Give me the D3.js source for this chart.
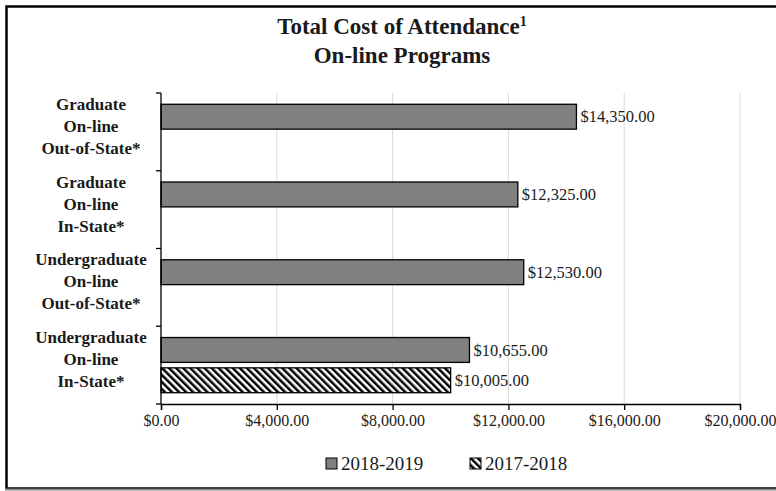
<!DOCTYPE html>
<html>
<head>
<meta charset="utf-8">
<script src="https://cdn.jsdelivr.net/npm/d3@7"></script>
<style>
  body { margin: 0; background: #fff; }
  text { font-family: "Liberation Serif", "DejaVu Serif", serif; fill: #1a1a1a; }
</style>
</head>
<body>
<script>
// Data
var categories = [
  ["Graduate", "On-line", "Out-of-State*"],
  ["Graduate", "On-line", "In-State*"],
  ["Undergraduate", "On-line", "Out-of-State*"],
  ["Undergraduate", "On-line", "In-State*"]
];
var seriesNames = ["2018-2019", "2017-2018"];
var values2018 = [14350, 12325, 12530, 10655];
var values2017 = [null, null, null, 10005];
var xTicks = [0, 4000, 8000, 12000, 16000, 20000];

var W = 776, H = 491;
var svg = d3.select("body").append("svg")
  .attr("width", W)
  .attr("height", H);

// hatch pattern for 2017-2018 (lines running "\")
var defs = svg.append("defs");
var pat = defs.append("pattern")
  .attr("id", "hatch")
  .attr("patternUnits", "userSpaceOnUse")
  .attr("width", 5)
  .attr("height", 5)
  .attr("patternTransform", "rotate(-45)");
pat.append("rect").attr("width", 5).attr("height", 5).attr("fill", "#fff");
pat.append("rect").attr("width", 2.5).attr("height", 5).attr("fill", "#000");

// outer frame
svg.append("rect")
  .attr("x", 6.5).attr("y", 6.5)
  .attr("width", W + 20).attr("height", 482)
  .attr("fill", "none")
  .attr("stroke", "#000")
  .attr("stroke-width", 2.5);
svg.append("line")
  .attr("x1", 5).attr("x2", W)
  .attr("y1", 489.5).attr("y2", 489.5)
  .attr("stroke", "#888")
  .attr("stroke-width", 2);

var margin = {top: 93, left: 161},
    plotW = 740 - 161,
    plotH = 404 - 93;

var g = svg.append("g").attr("transform", "translate(" + margin.left + "," + margin.top + ")");

var x = d3.scaleLinear().domain([0, 20000]).range([0, plotW]);
var y = d3.scaleBand().domain(d3.range(categories.length)).range([0, plotH])
  .paddingInner(0.29).paddingOuter(0.145);
var ySub = d3.scaleBand().domain(seriesNames).range([0, y.bandwidth()]).paddingInner(0.18);

// gridlines
g.selectAll("line.grid")
  .data(xTicks.slice(1))
  .enter().append("line")
  .attr("class", "grid")
  .attr("x1", function(d) { return x(d); })
  .attr("x2", function(d) { return x(d); })
  .attr("y1", 0).attr("y2", plotH)
  .attr("stroke", "#d9d9d9")
  .attr("stroke-width", 1);

// bars
var series = [
  {name: "2018-2019", values: values2018, fill: "#808080"},
  {name: "2017-2018", values: values2017, fill: "url(#hatch)"}
];
var fmt = d3.format("$,.2f");
series.forEach(function(s) {
  var data = s.values.map(function(v, i) { return {i: i, v: v}; })
    .filter(function(d) { return d.v != null; });
  g.selectAll("rect.b" + s.name)
    .data(data)
    .enter().append("rect")
    .attr("x", 0)
    .attr("y", function(d) { return y(d.i) + ySub(s.name); })
    .attr("width", function(d) { return x(d.v); })
    .attr("height", ySub.bandwidth())
    .attr("fill", s.fill)
    .attr("stroke", "#000")
    .attr("stroke-width", 1.3);
  g.selectAll("text.v" + s.name)
    .data(data)
    .enter().append("text")
    .attr("x", function(d) { return x(d.v) + 4; })
    .attr("y", function(d) { return y(d.i) + ySub(s.name) + ySub.bandwidth() / 2; })
    .attr("dy", "0.35em")
    .style("font-size", "16.5px")
    .text(function(d) { return fmt(d.v); });
});

// x axis
var xAxis = g.append("g")
  .attr("transform", "translate(0," + plotH + ")")
  .call(d3.axisBottom(x).tickValues(xTicks).tickSize(6).tickPadding(5).tickFormat(fmt));
xAxis.select(".domain").attr("stroke", "#000").attr("stroke-width", 1.3);
xAxis.selectAll(".tick line").attr("stroke", "#000").attr("stroke-width", 1.3);
xAxis.selectAll(".tick text")
  .style("font-family", "Liberation Serif, serif")
  .style("font-size", "16px")
  .attr("fill", "#1a1a1a");

// y axis line and boundary ticks
g.append("line")
  .attr("x1", 0).attr("x2", 0).attr("y1", 0).attr("y2", plotH)
  .attr("stroke", "#000").attr("stroke-width", 1.3);
var bounds = d3.range(categories.length + 1).map(function(i) { return i * y.step(); });
g.selectAll("line.ytick")
  .data(bounds)
  .enter().append("line")
  .attr("x1", -5).attr("x2", 0)
  .attr("y1", function(d) { return d; }).attr("y2", function(d) { return d; })
  .attr("stroke", "#000").attr("stroke-width", 1.3);

// category labels
categories.forEach(function(lines, i) {
  var cy = margin.top + y(i) + y.bandwidth() / 2 - 6;
  var t = svg.append("text")
    .attr("text-anchor", "middle")
    .attr("x", 91)
    .attr("y", cy - 22)
    .style("font-size", "17px")
    .style("font-weight", "bold");
  lines.forEach(function(l, j) {
    t.append("tspan").attr("x", 91).attr("y", cy - 22 + j * 22).attr("dy", "0.35em").text(l);
  });
});

// title
var title = svg.append("text")
  .attr("text-anchor", "middle")
  .attr("x", 402).attr("y", 34)
  .style("font-size", "23px")
  .style("font-weight", "bold");
title.append("tspan").text("Total Cost of Attendance");
title.append("tspan").attr("dy", "-8").style("font-size", "14px").text("1");
svg.append("text")
  .attr("text-anchor", "middle")
  .attr("x", 402).attr("y", 63)
  .style("font-size", "23px")
  .style("font-weight", "bold")
  .text("On-line Programs");

// legend
var legend = svg.append("g").attr("transform", "translate(0,463)");
var legItems = [
  {name: seriesNames[0], fill: "#808080", x: 326},
  {name: seriesNames[1], fill: "url(#hatch)", x: 470}
];
legItems.forEach(function(d) {
  legend.append("rect")
    .attr("x", d.x).attr("y", -5)
    .attr("width", 11).attr("height", 11)
    .attr("fill", d.fill)
    .attr("stroke", "#000").attr("stroke-width", 1);
  legend.append("text")
    .attr("x", d.x + 15).attr("y", 0)
    .attr("dy", "0.35em")
    .style("font-size", "19px")
    .text(d.name);
});
</script>
</body>
</html>
